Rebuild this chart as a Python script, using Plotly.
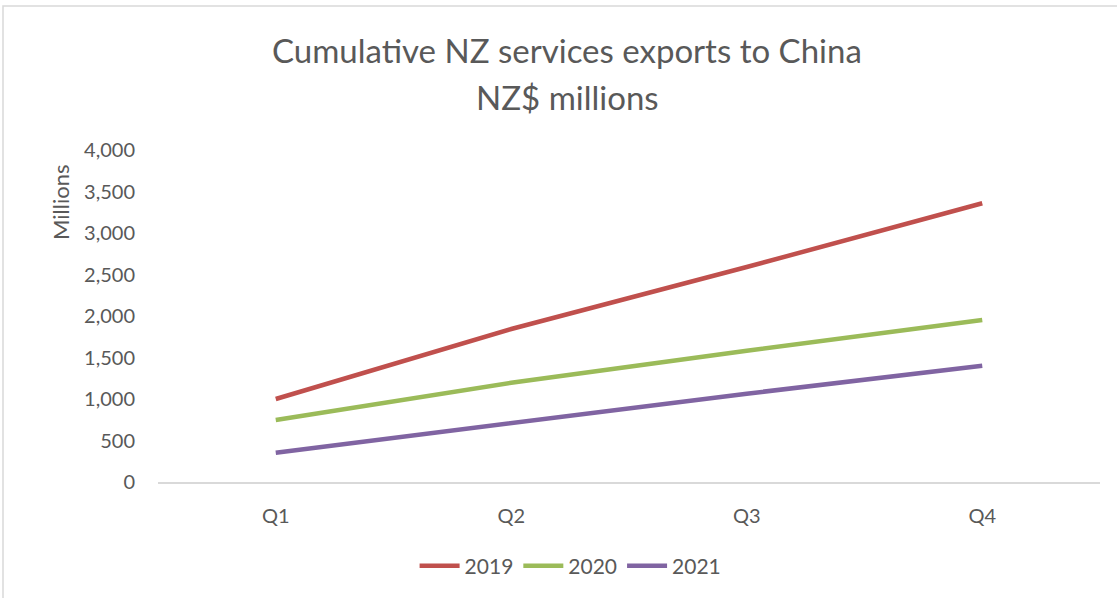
import plotly.graph_objects as go

quarters = ["Q1", "Q2", "Q3", "Q4"]
years = ["2019", "2020", "2021"]
v2019 = [1000, 1843, 2590, 3358]
v2020 = [747, 1196, 1582, 1952]
v2021 = [353, 707, 1064, 1401]
colors = ["#C0504D", "#9BBB59", "#8064A2"]
ytickvals = [0, 500, 1000, 1500, 2000, 2500, 3000, 3500, 4000]
title_lines = ["Cumulative NZ services exports to China", "NZ$ millions"]
ytitle = "Millions"

fig = go.Figure()
for name, vals, c in zip(years, [v2019, v2020, v2021], colors):
    fig.add_trace(go.Scatter(x=quarters, y=vals, mode="lines", name=name,
                             line=dict(color=c, width=4.5)))

FONT = "Lato"
TXT = "#595959"
fig.update_layout(
    width=1117, height=598,
    margin=dict(l=158, r=17, t=150, b=116),
    paper_bgcolor="white", plot_bgcolor="white",
    font=dict(family=FONT, color=TXT, size=20),
    xaxis=dict(showgrid=False, showline=True, linecolor="#d9d9d9", linewidth=2,
               ticks="", tickfont=dict(size=20, color=TXT), fixedrange=True,
               range=[-0.5, 3.5], ticklabelstandoff=15),
    yaxis=dict(range=[0, 4000], tickvals=ytickvals, tickformat=",", showgrid=False,
               zeroline=False, showline=False, ticks="",
               tickfont=dict(size=20, color=TXT), ticklabelstandoff=22),
    legend=dict(orientation="h", x=0.438, xanchor="center", y=-0.253, yanchor="middle",
                font=dict(size=21, color=TXT), itemwidth=40),
    showlegend=True,
)
fig.add_annotation(text=title_lines[0], xref="paper", yref="paper", x=(567 - 158) / 942,
                   y=(482 - 50) / 332, xanchor="center", yanchor="middle", showarrow=False,
                   font=dict(family=FONT, size=33, color=TXT))
fig.add_annotation(text=title_lines[1], xref="paper", yref="paper", x=(567 - 158) / 942,
                   y=(482 - 97) / 332, xanchor="center", yanchor="middle", showarrow=False,
                   font=dict(family=FONT, size=33, color=TXT))
fig.add_annotation(text=ytitle, xref="paper", yref="paper", x=(60 - 158) / 942,
                   y=(482 - 203) / 332, xanchor="center", yanchor="middle", showarrow=False,
                   textangle=-90, font=dict(family=FONT, size=22, color=TXT))
fig.add_shape(type="rect", xref="paper", yref="paper",
              x0=(3 - 158) / 942, x1=1.2, y0=-0.6, y1=(482 - 6) / 332,
              line=dict(color="#d9d9d9", width=1.5), fillcolor="rgba(0,0,0,0)", layer="below")
fig.write_html("out.html")
